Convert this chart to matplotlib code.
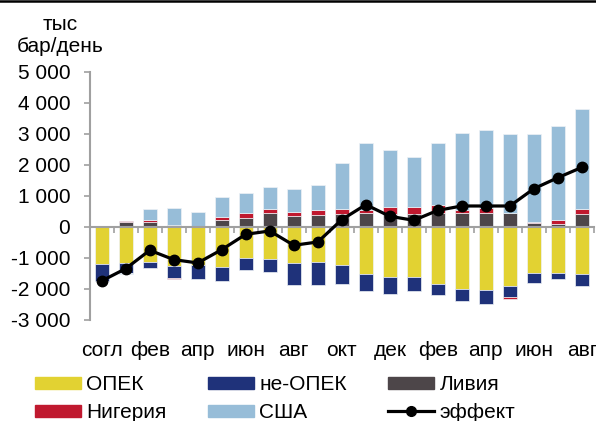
import numpy as np
import matplotlib
matplotlib.use('Agg')
import matplotlib.pyplot as plt
from matplotlib.lines import Line2D
from matplotlib.patches import Patch

plt.rcParams['font.family'] = ['Liberation Sans', 'DejaVu Sans']

# categories (agreement, then monthly)
months = ['согл', 'янв', 'фев', 'мар', 'апр', 'май', 'июн', 'июл', 'авг', 'сен', 'окт',
          'ноя', 'дек', 'янв', 'фев', 'мар', 'апр', 'май', 'июн', 'июл', 'авг']

# thousand barrels per day
opec = [-1180, -1160, -1140, -1270, -1236, -1290, -989, -1032, -1150, -1118, -1226,
        -1527, -1602, -1623, -1849, -1989, -2043, -1892, -1494, -1473, -1527]
non_opec = [-560, -320, -183, -365, -440, -450, -408, -419, -710, -763, -624,
            -527, -548, -440, -355, -398, -430, -376, -301, -215, -376]
libya = [0, 160, 160, 75, 0, 215, 300, 462, 344, 376, 430,
         452, 430, 408, 462, 452, 452, 452, 140, 108, 419]
nigeria = [0, 30, 65, -43, 0, 108, 150, 118, 140, 161, 150,
           107, 204, 226, 236, 86, 172, -54, 20, 118, 161]
usa = [0, -50, 344, 537, 473, 645, 645, 710, 742, 828, 1484,
       2160, 1838, 1612, 2010, 2505, 2505, 2537, 2838, 3032, 3214]
effect = [-1740, -1344, -752, -1053, -1161, -731, -236, -129, -591, -484, 237,
          720, 344, 215, 537, 677, 677, 677, 1236, 1591, 1924]

series = [('ОПЕК', opec, '#E2D232'),
          ('не-ОПЕК', non_opec, '#1F327A'),
          ('Ливия', libya, '#4D4649'),
          ('Нигерия', nigeria, '#C0192F'),
          ('США', usa, '#97BDD8')]

fig = plt.figure(figsize=(5.96, 4.21), dpi=100)
ax = fig.add_axes([0.1505, 0.240, 0.846, 0.589])

x = np.arange(len(months))
pos = np.zeros(len(x))
neg = np.zeros(len(x))
for name, vals, col in series:
    v = np.array(vals, dtype=float)
    bottom = np.where(v >= 0, pos, neg)
    ax.bar(x, v, 0.6, bottom=bottom, color=col, edgecolor='#EEF2F6', linewidth=0.5, zorder=2)
    pos += np.where(v >= 0, v, 0)
    neg += np.where(v < 0, v, 0)

ax.plot(x, effect, color='black', lw=2.3, marker='o', ms=7.5, zorder=4)

ax.set_xlim(-0.5, len(x) - 0.5)
ax.set_ylim(-3000, 5000)
ax.set_yticks(np.arange(-3000, 5001, 1000))
ax.yaxis.set_major_formatter(plt.FuncFormatter(lambda v, p: f'{int(v):,}'.replace(',', ' ')))

for s in ['top', 'right']:
    ax.spines[s].set_visible(False)
ax.spines['left'].set_color('#A0A0A0')
ax.spines['left'].set_linewidth(1.5)
ax.spines['bottom'].set_position(('data', 0))
ax.spines['bottom'].set_color('#A0A0A0')
ax.spines['bottom'].set_linewidth(1.5)
ax.spines['bottom'].set_zorder(3)

ax.tick_params(axis='y', length=4, width=1.2, color='#A0A0A0', pad=10, labelsize=15)
ax.set_xticks(x[::2])
ax.set_xticklabels(months[::2])
ax.set_xticks(np.arange(-0.5, len(x), 1), minor=True)
ax.tick_params(axis='x', which='major', length=0, pad=82, labelsize=15)
ax.tick_params(axis='x', which='minor', length=4, width=1.2, color='#A0A0A0')

fig.text(0.101, 0.965, 'тыс\nбар/день', ha='center', va='top', fontsize=15, linespacing=1.25)

fig.add_artist(Line2D([0, 1], [1 - 1 / 421, 1 - 1 / 421], color='black', lw=1.8))

handles = [Patch(color=series[0][2], label='ОПЕК'),
           Patch(color=series[3][2], label='Нигерия'),
           Patch(color=series[1][2], label='не-ОПЕК'),
           Patch(color=series[4][2], label='США'),
           Patch(color=series[2][2], label='Ливия'),
           Line2D([], [], color='black', lw=2.3, marker='o', ms=7, label='эффект')]
fig.legend(handles=handles, ncol=3, loc='center left', bbox_to_anchor=(0.0587, 0.053),
           frameon=False, fontsize=15, handlelength=2.2, handleheight=0.5,
           handletextpad=0.25, columnspacing=2.0, labelspacing=0.42,
           borderpad=0, borderaxespad=0)

fig.savefig('out.png', dpi=100)
